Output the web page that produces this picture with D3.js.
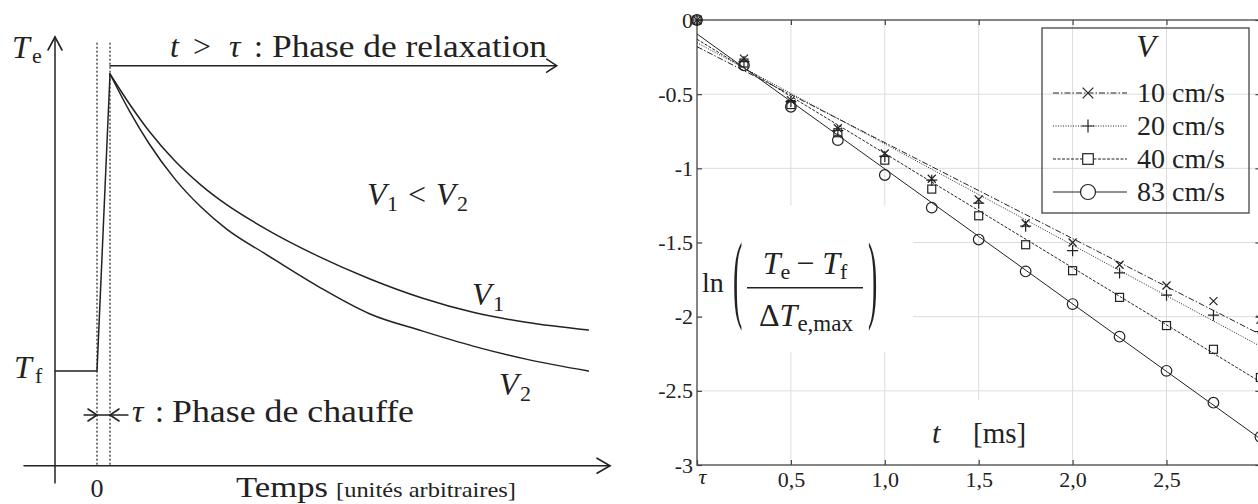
<!DOCTYPE html>
<html>
<head>
<meta charset="utf-8">
<script src="https://cdn.jsdelivr.net/npm/d3@7"></script>
<style>
  body { margin: 0; background: #fff; }
  svg { display: block; }
  svg text { font-family: 'Liberation Serif', 'DejaVu Serif', 'Noto Serif', 'Times New Roman', Times, serif; fill: #222; }
</style>
</head>
<body>
<svg id="chart"></svg>
<script>
// ---- left panel: schematic (arbitrary units, tau = 1, peak = 1, Tf = 0)
const schemTime = [1, 2.5, 4, 6, 8, 10, 13, 17, 21, 25, 29, 33, 37.8]
const tempV1 = [1, 0.899, 0.808, 0.707, 0.626, 0.559, 0.478, 0.387, 0.310, 0.246, 0.197, 0.164, 0.138]
const tempV2 = [1, 0.875, 0.766, 0.646, 0.552, 0.477, 0.393, 0.285, 0.192, 0.135, 0.083, 0.040, 0.0]
const rampTime = [-3.2, 0, 1]
const rampTemp = [0, 0, 1]

// ---- right panel: ln((Te-Tf)/dTe,max) vs t [ms]
const tMs = [0, 0.25, 0.5, 0.75, 1.0, 1.25, 1.5, 1.75, 2.0, 2.25, 2.5, 2.75, 3.0]
const ln10 = [0, -0.26, -0.54, -0.73, -0.90, -1.07, -1.21, -1.37, -1.50, -1.65, -1.79, -1.895, -2.02]
const ln20 = [0, -0.28, -0.55, -0.745, -0.92, -1.08, -1.235, -1.39, -1.555, -1.705, -1.855, -1.99, -2.10]
const ln40 = [0, -0.29, -0.57, -0.76, -0.945, -1.14, -1.32, -1.515, -1.69, -1.87, -2.06, -2.22, -2.41]
const ln83 = [0, -0.305, -0.585, -0.81, -1.045, -1.265, -1.48, -1.695, -1.915, -2.135, -2.365, -2.58, -2.81]
// fitted straight lines, value at t = 0 and t = 3 ms
const fitStart = [-0.18, -0.153, -0.13, -0.094]
const fitEnd = [-2.12, -2.20, -2.44, -2.824]
const speeds = ['10 cm/s', '20 cm/s', '40 cm/s', '83 cm/s']
const markers = ['x', '+', 'square', 'circle']
const dashes = ['6,2,1.5,2', '1,1.5', '3,1.5', null]

const xTicks = [0, 0.5, 1.0, 1.5, 2.0, 2.5, 3.0]
const xTickLabels = ['τ', '0,5', '1,0', '1,5', '2,0', '2,5', '']
const yTicks = [0, -0.5, -1, -1.5, -2, -2.5, -3]
const yTickLabels = ['0', '-0.5', '-1', '-1.5', '-2', '-2.5', '-3']

const ink = '#222'
const serif = "'Liberation Serif', 'DejaVu Serif', 'Noto Serif', 'Times New Roman', Times, serif"
const svg = d3.select('#chart').attr('width', 1258).attr('height', 504).attr('font-family', serif)

// ================= left panel =================
const xL = d3.scaleLinear().domain([0, 1]).range([97, 110])
const yL = d3.scaleLinear().domain([0, 1]).range([371, 74])
const left = svg.append('g').attr('stroke-linecap', 'round')

function chevron(g, x, y, dir, len, half) {
  // dir: 'up' | 'right' | 'left'
  let d
  if (dir === 'up') d = `M${x - half},${y + len}L${x},${y}L${x + half},${y + len}`
  if (dir === 'right') d = `M${x - len},${y - half}L${x},${y}L${x - len},${y + half}`
  if (dir === 'left') d = `M${x + len},${y - half}L${x},${y}L${x + len},${y + half}`
  g.append('path').attr('d', d).attr('fill', 'none').attr('stroke', ink).attr('stroke-width', 1.6)
}

// axes
left.append('line').attr('x1', 55).attr('x2', 55).attr('y1', 483).attr('y2', 37)
  .attr('stroke', ink).attr('stroke-width', 1.5)
chevron(left, 55, 37, 'up', 13, 7)
left.append('line').attr('x1', 24).attr('x2', 610).attr('y1', 465.7).attr('y2', 465.7)
  .attr('stroke', ink).attr('stroke-width', 1.5)
chevron(left, 610, 465.7, 'right', 13, 7.5)

// dotted markers of t = 0 and t = tau
left.append('g').selectAll('line').data([0, 1]).join('line')
  .attr('x1', d => xL(d)).attr('x2', d => xL(d))
  .attr('y1', 43).attr('y2', 465)
  .attr('stroke', ink).attr('stroke-width', 1.2).attr('stroke-dasharray', '1.2,2.8')

// heating ramp
const lineL = d3.line().x(d => xL(d[0])).y(d => yL(d[1]))
left.append('path').datum(d3.zip(rampTime, rampTemp)).attr('d', lineL)
  .attr('fill', 'none').attr('stroke', ink).attr('stroke-width', 1.5)

// relaxation curves
const curveL = d3.line().x(d => xL(d[0])).y(d => yL(d[1])).curve(d3.curveMonotoneX)
left.append('path').datum(d3.zip(schemTime, tempV1)).attr('d', curveL)
  .attr('fill', 'none').attr('stroke', ink).attr('stroke-width', 1.5)
left.append('path').datum(d3.zip(schemTime, tempV2)).attr('d', curveL)
  .attr('fill', 'none').attr('stroke', ink).attr('stroke-width', 1.5)

// relaxation arrow
left.append('line').attr('x1', xL(1)).attr('x2', 556).attr('y1', 65.7).attr('y2', 65.7)
  .attr('stroke', ink).attr('stroke-width', 1.4)
chevron(left, 556.7, 65.7, 'right', 10, 6.5)

// heating phase double arrow
left.append('line').attr('x1', 84).attr('x2', 128).attr('y1', 415).attr('y2', 415)
  .attr('stroke', ink).attr('stroke-width', 1.4)
chevron(left, xL(0), 415, 'right', 9, 6)
chevron(left, xL(1), 415, 'left', 9, 6)

// labels, left
function put(g, x, y, str, size, italic) {
  return g.append('text').attr('x', x).attr('y', y).attr('font-size', size)
    .attr('font-family', serif)
    .attr('font-style', italic ? 'italic' : 'normal').text(str)
}
put(left, 12, 58, 'T', 32, true)
put(left, 32, 63, 'e', 22, false)
put(left, 14, 378, 'T', 32, true)
put(left, 35, 383, 'f', 22, false)

put(left, 170, 57, 't', 32, true)
put(left, 193, 57, '>', 32, false)
put(left, 229, 57, 'τ', 32, true)
put(left, 254, 57, ':', 32, false)
put(left, 272, 57, 'Phase de relaxation', 32, false)
  .attr('textLength', 275).attr('lengthAdjust', 'spacingAndGlyphs')

put(left, 132, 422, 'τ', 32, true)
put(left, 155, 422, ':', 32, false)
put(left, 172, 422, 'Phase de chauffe', 32, false)
  .attr('textLength', 242).attr('lengthAdjust', 'spacingAndGlyphs')

put(left, 367, 205, 'V', 32, true)
put(left, 387, 211, '1', 22, false)
put(left, 408, 205, '<', 32, false)
put(left, 436, 205, 'V', 32, true)
put(left, 457, 211, '2', 22, false)

put(left, 472, 305, 'V', 32, true)
put(left, 493, 311, '1', 22, false)
put(left, 499, 395, 'V', 32, true)
put(left, 520, 401, '2', 22, false)

put(left, xL(0), 497, '0', 26, false).attr('text-anchor', 'middle')
put(left, 236, 497, 'Temps', 29, false).attr('textLength', 92).attr('lengthAdjust', 'spacingAndGlyphs')
put(left, 336, 497, '[unités arbitraires]', 21, false).attr('textLength', 180).attr('lengthAdjust', 'spacingAndGlyphs')

// ================= right panel =================
const xR = d3.scaleLinear().domain([0, 3]).range([697, 1260.4])
const yR = d3.scaleLinear().domain([0, -3]).range([20, 465])
const right = svg.append('g')

// grid
right.append('g').selectAll('line').data(xTicks.slice(1)).join('line')
  .attr('x1', d => xR(d)).attr('x2', d => xR(d)).attr('y1', yR(0)).attr('y2', yR(-3))
  .attr('stroke', '#dcdcdc').attr('stroke-width', 1)
right.append('g').selectAll('line').data(yTicks.slice(1, -1)).join('line')
  .attr('y1', d => yR(d)).attr('y2', d => yR(d)).attr('x1', xR(0)).attr('x2', xR(3))
  .attr('stroke', '#dcdcdc').attr('stroke-width', 1)

// white backgrounds of the in-plot labels
right.append('rect').attr('x', 703).attr('y', 205).attr('width', 210).attr('height', 147).attr('fill', '#fff')
right.append('rect').attr('x', 915).attr('y', 400).attr('width', 120).attr('height', 58).attr('fill', '#fff')

// frame
right.append('rect').attr('x', xR(0)).attr('y', yR(0))
  .attr('width', xR(3) - xR(0)).attr('height', yR(-3) - yR(0))
  .attr('fill', 'none').attr('stroke', '#444').attr('stroke-width', 1.3)

function styleAxis(g) {
  g.select('.domain').remove()
  g.attr('font-family', serif).attr('font-size', 22).attr('color', '#444')
  g.selectAll('.tick line').attr('stroke-width', 1.2)
  g.selectAll('.tick text').attr('fill', ink).attr('font-family', serif)
}
const axB = right.append('g').attr('transform', `translate(0,${yR(-3)})`)
  .call(d3.axisBottom(xR).tickValues(xTicks).tickFormat((d, i) => xTickLabels[i])
    .tickSizeInner(-5).tickSizeOuter(0).tickPadding(6.5))
  .call(styleAxis)
axB.selectAll('.tick text').filter((d, i) => i === 0)
  .attr('font-style', 'italic').attr('dx', 5).attr('dy', '0.55em')
right.append('g').attr('transform', `translate(0,${yR(0)})`)
  .call(d3.axisTop(xR).tickValues(xTicks).tickFormat('').tickSizeInner(-5).tickSizeOuter(0))
  .call(styleAxis)
right.append('g').attr('transform', `translate(${xR(0)},0)`)
  .call(d3.axisLeft(yR).tickValues(yTicks).tickFormat((d, i) => yTickLabels[i])
    .tickSizeInner(-5).tickSizeOuter(0).tickPadding(4))
  .call(styleAxis)
right.append('g').attr('transform', `translate(${xR(3)},0)`)
  .call(d3.axisRight(yR).tickValues(yTicks).tickFormat('').tickSizeInner(-5).tickSizeOuter(0))
  .call(styleAxis)

// fitted lines
svg.append('clipPath').attr('id', 'plot-clip').append('rect')
  .attr('x', xR(0)).attr('y', yR(0)).attr('width', xR(3) - xR(0)).attr('height', yR(-3) - yR(0))
const fits = right.append('g').attr('clip-path', 'url(#plot-clip)')
speeds.forEach((s, i) => {
  fits.append('line')
    .attr('x1', xR(0)).attr('y1', yR(fitStart[i]))
    .attr('x2', xR(3)).attr('y2', yR(fitEnd[i]))
    .attr('stroke', ink).attr('stroke-width', 1)
    .attr('stroke-dasharray', dashes[i])
})

function marker(g, kind, cx, cy, s, fill) {
  let el
  if (kind === 'x') el = g.append('path').attr('d', `M${cx - s},${cy - s}L${cx + s},${cy + s}M${cx - s},${cy + s}L${cx + s},${cy - s}`)
  if (kind === '+') el = g.append('path').attr('d', `M${cx - s},${cy}L${cx + s},${cy}M${cx},${cy - s}L${cx},${cy + s}`)
  if (kind === 'square') el = g.append('rect').attr('x', cx - s).attr('y', cy - s).attr('width', 2 * s).attr('height', 2 * s)
  if (kind === 'circle') el = g.append('circle').attr('cx', cx).attr('cy', cy).attr('r', s)
  el.attr('fill', fill).attr('stroke', ink).attr('stroke-width', 1.2)
}
const plotSize = { x: 4, '+': 5.5, square: 4, circle: 5.3 }
const legendSize = { x: 5.3, '+': 6.5, square: 5.3, circle: 7.5 }

const values = [ln10, ln20, ln40, ln83]
const pts = right.append('g')
values.forEach((vals, i) => {
  vals.forEach((v, j) => marker(pts, markers[i], xR(tMs[j]), yR(v), plotSize[markers[i]], 'none'))
})

// legend
const lg = right.append('g')
lg.append('rect').attr('x', 1042).attr('y', 28).attr('width', 207).attr('height', 185)
  .attr('fill', 'none').attr('stroke', '#444').attr('stroke-width', 1.3)
put(lg, 1146, 57, 'V', 32, true).attr('text-anchor', 'middle')
speeds.forEach((s, i) => {
  const cy = 93 + i * 33
  lg.append('line').attr('x1', 1053).attr('x2', 1127).attr('y1', cy).attr('y2', cy)
    .attr('stroke', ink).attr('stroke-width', 1.2).attr('stroke-dasharray', dashes[i])
  marker(lg, markers[i], 1088, cy, legendSize[markers[i]], '#fff')
  put(lg, 1137, cy + 8.5, s, 28, false)
})

// y label formula
const fm = right.append('g')
put(fm, 702, 292, 'ln', 28, false)
put(fm, 0, 0, '(', 28, false).attr('transform', 'translate(733,310) scale(1,3.5)')
put(fm, 0, 0, ')', 28, false).attr('transform', 'translate(868,310) scale(1,3.5)')
fm.append('line').attr('x1', 747).attr('x2', 863).attr('y1', 287.7).attr('y2', 287.7)
  .attr('stroke', ink).attr('stroke-width', 1.5)
const num = fm.append('text').attr('x', 805).attr('y', 274).attr('text-anchor', 'middle')
  .attr('font-size', 32).attr('font-family', serif)
num.append('tspan').attr('font-style', 'italic').text('T')
num.append('tspan').attr('font-size', 22).attr('dy', 5).text('e')
num.append('tspan').attr('dy', -5).attr('dx', 6).text('−')
num.append('tspan').attr('font-style', 'italic').attr('dx', 8).text('T')
num.append('tspan').attr('font-size', 22).attr('dy', 5).text('f')
const den = fm.append('text').attr('x', 806).attr('y', 326).attr('text-anchor', 'middle')
  .attr('font-size', 32).attr('font-family', serif)
den.append('tspan').text('Δ')
den.append('tspan').attr('font-style', 'italic').text('T')
den.append('tspan').attr('font-size', 23).attr('dy', 5).text('e,max')

// x label
put(right, 932, 443, 't', 30, true)
put(right, 973, 443, '[ms]', 29, false)
</script>
</body>
</html>
